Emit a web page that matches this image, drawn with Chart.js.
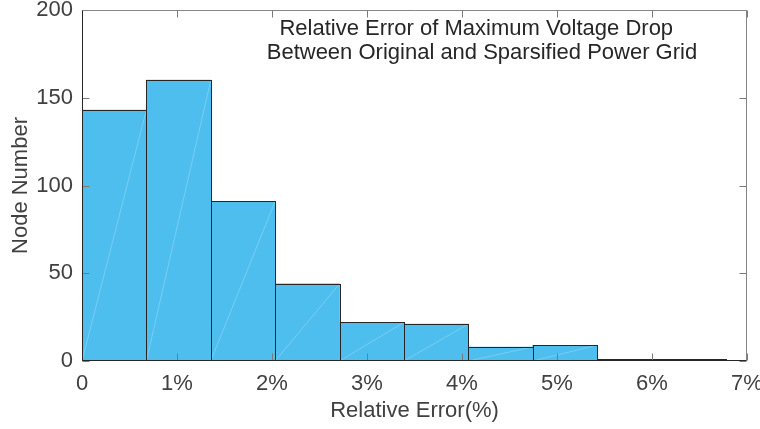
<!DOCTYPE html>
<html>
<head>
<meta charset="utf-8">
<script src="https://cdn.jsdelivr.net/npm/chart.js@4/dist/chart.umd.min.js"></script>
<style>
  html, body { margin: 0; padding: 0; background: #ffffff; }
  #wrap { width: 760px; height: 429px; }
</style>
</head>
<body>
<div id="wrap"><canvas id="hist" width="760" height="429"></canvas></div>
<script>
// Histogram of relative error (%), ten equal bins from 0 to ~6.78 %
const binEdges = [0, 0.6777, 1.3554, 2.0331, 2.7108, 3.3885, 4.0662, 4.7439, 5.4216, 6.0993, 6.777];
const nodeCounts = [143, 160, 91, 44, 22, 21, 8, 9, 1, 1];
const xTicks = [0, 1, 2, 3, 4, 5, 6, 7];
const yTicks = [0, 50, 100, 150, 200];
const titleLines = ['Relative Error of Maximum Voltage Drop', 'Between Original and Sparsified Power Grid'];
const titleCenters = [4.15, 4.21]; // x positions (in %) of each title line's centre

const binCenters = nodeCounts.map((_, i) => (binEdges[i] + binEdges[i + 1]) / 2);
const points = nodeCounts.map((c, i) => ({ x: binCenters[i], y: c }));

const FONT = '"Liberation Sans", Arial, Helvetica, sans-serif';
const TEXT = '#404040';

// Box, inward tick marks, faint facet diagonals and the in-plot title
const axesBox = {
  id: 'axesBox',
  afterDatasetsDraw(chart) {
    const { ctx } = chart;
    ctx.save();
    const meta = chart.getDatasetMeta(0);
    // faint diagonals across every bar face
    ctx.strokeStyle = 'rgba(255,255,255,0.3)';
    ctx.lineWidth = 0.8;
    meta.data.forEach(bar => {
      const l = bar.x - bar.width / 2, r = bar.x + bar.width / 2;
      ctx.beginPath();
      ctx.moveTo(l, bar.base);
      ctx.lineTo(r, bar.y);
      ctx.stroke();
    });
    // bar outlines
    ctx.strokeStyle = '#262626';
    ctx.lineWidth = 1;
    meta.data.forEach(bar => {
      const l = Math.round(bar.x - bar.width / 2) + 0.5, r = Math.round(bar.x + bar.width / 2) + 0.5;
      const t = Math.round(bar.y) + 0.5, b = Math.round(bar.base) - 0.5;
      ctx.strokeRect(l, t, r - l, b - t);
    });
    ctx.restore();
  },
  afterDraw(chart) {
    const { ctx, chartArea: a, scales: { x, y } } = chart;
    const L = Math.round(a.left) + 0.5, R = Math.round(a.right) - 0.5;
    const T = Math.round(a.top) + 0.5, B = Math.round(a.bottom) - 0.5;
    const tl = 7;
    ctx.save();
    ctx.lineWidth = 1;
    // tick marks pointing inward on all four sides
    ctx.strokeStyle = '#7a7a7a';
    ctx.beginPath();
    xTicks.forEach(v => {
      const px = Math.round(x.getPixelForValue(v)) + 0.5;
      ctx.moveTo(px, B); ctx.lineTo(px, B - tl);
      ctx.moveTo(px, T); ctx.lineTo(px, T + tl);
    });
    yTicks.forEach(v => {
      const py = Math.round(y.getPixelForValue(v)) + 0.5;
      ctx.moveTo(L, py); ctx.lineTo(L + tl, py);
      ctx.moveTo(R, py); ctx.lineTo(R - tl, py);
    });
    ctx.stroke();
    // top and right box lines
    ctx.strokeStyle = '#858585';
    ctx.beginPath();
    ctx.moveTo(L, T); ctx.lineTo(R, T); ctx.lineTo(R, B);
    ctx.stroke();
    // left and bottom axis lines
    ctx.strokeStyle = '#262626';
    ctx.beginPath();
    ctx.moveTo(L, T); ctx.lineTo(L, B); ctx.lineTo(R, B);
    ctx.stroke();
    // title inside the axes
    ctx.fillStyle = '#262626';
    ctx.font = '22px ' + FONT;
    ctx.textAlign = 'center';
    ctx.textBaseline = 'middle';
    ctx.fillText(titleLines[0], x.getPixelForValue(titleCenters[0]), 29);
    ctx.fillText(titleLines[1], x.getPixelForValue(titleCenters[1]), 53);
    ctx.restore();
  }
};

new Chart(document.getElementById('hist'), {
  type: 'bar',
  data: {
    datasets: [{
      data: points,
      backgroundColor: '#4DBEEE',
      borderWidth: 0,
      barPercentage: 1,
      categoryPercentage: 1,
      grouped: false
    }]
  },
  options: {
    responsive: false,
    animation: false,
    layout: { padding: { top: 10, right: 13, left: 0, bottom: 0 } },
    plugins: { legend: { display: false }, tooltip: { enabled: false } },
    scales: {
      x: {
        type: 'linear',
        offset: false,
        min: 0, max: 7,
        afterBuildTicks(scale) { scale.ticks = xTicks.map(v => ({ value: v })); },
        afterFit(scale) {
          scale.height = 68;
          scale.paddingLeft = 0;
          scale.paddingRight = 0;
        },
        grid: { display: false, drawTicks: false, offset: false },
        border: { display: false },
        ticks: {
          color: TEXT,
          font: { family: FONT, size: 22 },
          padding: 10,
          maxRotation: 0,
          autoSkip: false,
          callback: v => v === 0 ? '0' : v + '%'
        },
        title: {
          display: true,
          text: 'Relative Error(%)',
          color: TEXT,
          font: { family: FONT, size: 22 },
          padding: { top: 0, bottom: 5 }
        }
      },
      y: {
        min: 0, max: 200,
        afterBuildTicks(scale) { scale.ticks = yTicks.map(v => ({ value: v })); },
        afterFit(scale) {
          scale.width = 82;
          scale.paddingTop = 0;
          scale.paddingBottom = 0;
        },
        grid: { display: false, drawTicks: false },
        border: { display: false },
        ticks: {
          color: TEXT,
          font: { family: FONT, size: 22 },
          padding: 9
        },
        title: {
          display: true,
          text: 'Node Number',
          color: TEXT,
          font: { family: FONT, size: 22 },
          padding: { top: 8, bottom: 0 }
        }
      }
    }
  },
  plugins: [axesBox]
});
</script>
</body>
</html>
